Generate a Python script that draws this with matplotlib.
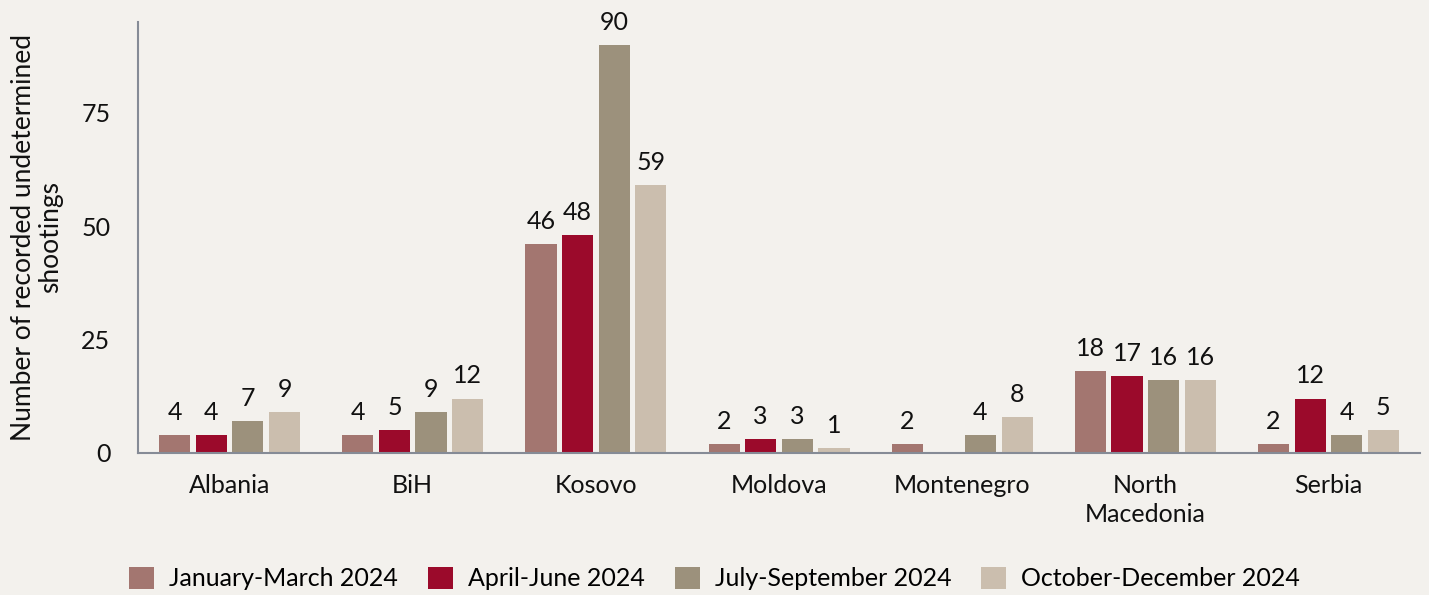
import matplotlib.pyplot as plt
import numpy as np

plt.rcParams['font.family'] = ['Lato', 'DejaVu Sans']

countries = ['Albania', 'BiH', 'Kosovo', 'Moldova', 'Montenegro', 'North\nMacedonia', 'Serbia']
periods = ['January-March 2024', 'April-June 2024', 'July-September 2024', 'October-December 2024']
jan_mar = [4, 4, 46, 2, 2, 18, 2]
apr_jun = [4, 5, 48, 3, None, 17, 12]
jul_sep = [7, 9, 90, 3, 4, 16, 4]
oct_dec = [9, 12, 59, 1, 8, 16, 5]
series = [jan_mar, apr_jun, jul_sep, oct_dec]
colors = ['#a37670', '#9b0a2b', '#9c917c', '#cbbeae']

bg = '#f3f1ed'
fig = plt.figure(figsize=(14.29, 5.95), dpi=100, facecolor=bg)
ax = fig.add_axes([0.0966, 0.2387, 0.8971, 0.7243], facecolor=bg)

x = np.arange(len(countries))
w = 0.17
step = 0.2
for i, (vals, c, lab) in enumerate(zip(series, colors, periods)):
    xs = x + (i - 1.5) * step
    heights = [np.nan if v is None else v for v in vals]
    ax.bar(xs, heights, width=w, color=c, label=lab)
    for xi, v in zip(xs, vals):
        if v is None:
            continue
        ax.annotate(str(v), (xi, v), xytext=(0, 8), textcoords='offset points',
                    ha='center', va='bottom', fontsize=18, color='#111111')

ax.set_xlim(-0.5, 6.5)
ax.set_ylim(0, 95)
ax.set_yticks([0, 25, 50, 75])
ax.set_xticks(x)
ax.set_xticklabels(countries, linespacing=1.35)
ax.tick_params(axis='both', length=0, labelsize=18, colors='#111111')
ax.tick_params(axis='y', pad=20)
ax.tick_params(axis='x', pad=15)
ax.set_ylabel('Number of recorded undetermined\nshootings', fontsize=19, color='#111111',
              labelpad=13, linespacing=1.1)
for s in ['top', 'right']:
    ax.spines[s].set_visible(False)
for s in ['left', 'bottom']:
    ax.spines[s].set_color('#858b96')
    ax.spines[s].set_linewidth(1.5)

fig.legend(loc='lower center', bbox_to_anchor=(0.5, -0.03), ncol=4, frameon=False,
           fontsize=18, handlelength=1.0, handleheight=1.0, columnspacing=1.2, handletextpad=0.6)

plt.savefig('out.png', dpi=100, facecolor=bg)
